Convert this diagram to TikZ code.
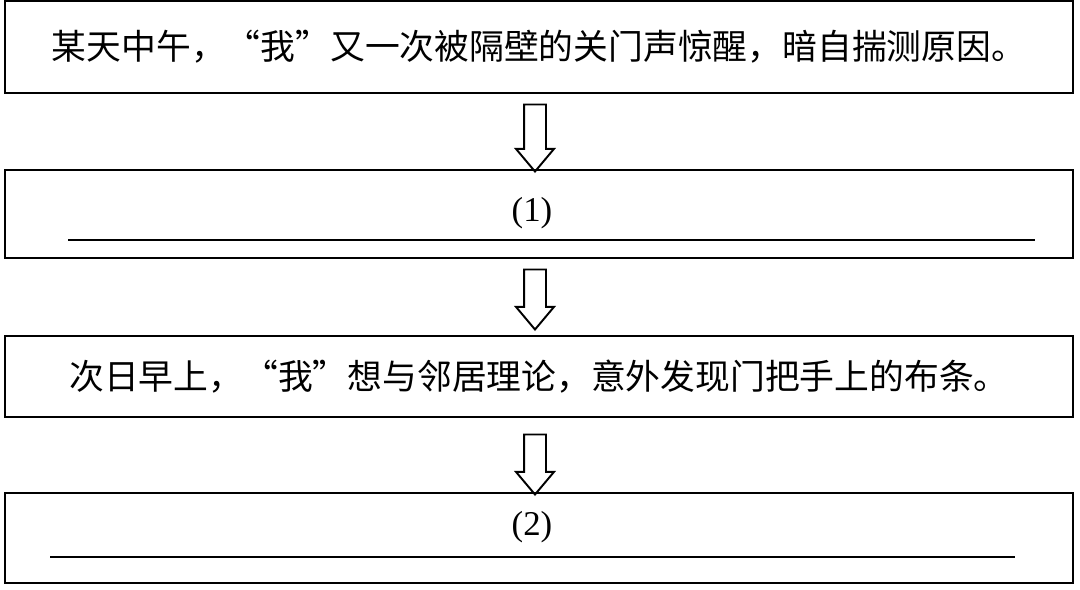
\documentclass[tikz,border=0pt]{standalone}
\usepackage{fontspec}
\setmainfont{Liberation Serif}
\newfontfamily\cjk{Noto Sans CJK SC}
\usetikzlibrary{shapes.arrows}

\begin{document}
\begin{tikzpicture}[x=0.02cm,y=-0.02cm,
  box/.style={draw,line width=1.1pt,rectangle,minimum width=21.36cm,inner sep=0pt,font=\fontsize{19.8}{22}\selectfont\cjk},
  down/.style={draw,line width=1.1pt,single arrow,shape border rotate=270,inner sep=0.2cm,
    single arrow head extend=0.16cm,single arrow tip angle=80,anchor=center}]
  \useasboundingbox (0,0) rectangle (1080,590);

  \node[box,minimum height=1.84cm] (step1) at (539,47) {某天中午，“我”又一次被隔壁的关门声惊醒，暗自揣测原因。};
  \node[box,minimum height=1.76cm] (step2) at (539,214) {};
  \node[box,minimum height=1.62cm] (step3) at (539,376.5) {次日早上，“我”想与邻居理论，意外发现门把手上的布条。};
  \node[box,minimum height=1.80cm] (step4) at (539,538) {};

  \node[font=\fontsize{19.8}{22}\selectfont] (blank1) at (532,213) {(1)};
  \draw[line width=1.1pt] (68,240) -- (1035,240);
  \node[font=\fontsize{19.8}{22}\selectfont] (blank2) at (532,527) {(2)};
  \draw[line width=1.1pt] (50,557) -- (1015,557);

  \node[down,minimum height=1.34cm] (arr1) at (535,131.5) {};
  \node[down,minimum height=1.20cm] (arr2) at (535,293) {};
  \node[down,minimum height=1.20cm] (arr3) at (535,458) {};
\end{tikzpicture}
\end{document}
